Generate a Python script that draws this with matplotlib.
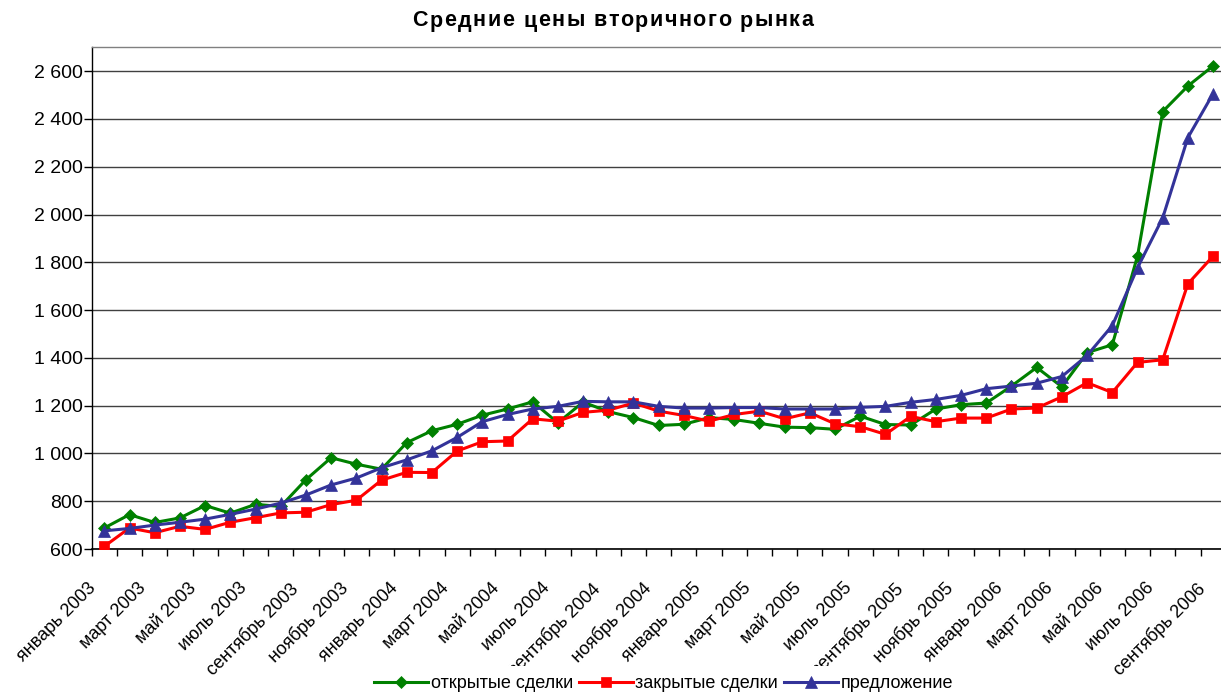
import matplotlib
matplotlib.use("Agg")
import matplotlib.pyplot as plt
from matplotlib.ticker import FixedLocator, FuncFormatter
from matplotlib.transforms import Bbox, TransformedBbox, ScaledTranslation

plt.rcParams['font.family'] = ['Liberation Sans', 'DejaVu Sans']

months = ["январь", "февраль", "март", "апрель", "май", "июнь", "июль",
          "август", "сентябрь", "октябрь", "ноябрь", "декабрь"]
categories = [f"{months[m]} {y}" for y in (2003, 2004, 2005, 2006) for m in range(12)][:45]

open_deals = [688, 744, 711, 730, 782, 750, 787, 778, 890, 982,
              955, 934, 1045, 1095, 1122, 1160, 1186, 1216, 1128, 1215,
              1175, 1150, 1117, 1122, 1150, 1142, 1126, 1110, 1108, 1101,
              1156, 1121, 1119, 1186, 1204, 1211, 1282, 1360, 1279, 1422,
              1455, 1826, 2431, 2538, 2622]
closed_deals = [611, 688, 668, 695, 682, 712, 731, 751, 754, 786,
                804, 888, 921, 920, 1010, 1049, 1052, 1145, 1135, 1172,
                1181, 1211, 1177, 1159, 1135, 1163, 1177, 1145, 1170, 1124,
                1112, 1080, 1155, 1133, 1148, 1148, 1186, 1190, 1237, 1296,
                1255, 1381, 1392, 1710, 1826]
offer = [676, 686, 700, 712, 725, 745, 767, 792, 826, 868,
         897, 940, 973, 1011, 1067, 1133, 1163, 1186, 1197, 1218,
         1216, 1216, 1197, 1190, 1190, 1192, 1192, 1186, 1186, 1186,
         1193, 1197, 1214, 1226, 1243, 1271, 1282, 1294, 1322, 1410,
         1535, 1777, 1986, 2322, 2506]

series_names = ["открытые сделки", "закрытые сделки", "предложение"]
title = "Средние цены вторичного рынка"

W, H = 1221, 695
fig = plt.figure(figsize=(W / 100, H / 100), dpi=100)
left, right, top, bottom = 91.7, 1225.7, 47.3, 549.0
ax = fig.add_axes([left / W, 1 - bottom / H, (right - left) / W, (bottom - top) / H])

x = list(range(len(categories)))
ax.plot(x, open_deals, color="#008000", lw=2.2, marker="D", ms=6.2,
        mec="#008000", mew=0.5, label=series_names[0], zorder=3)
ax.plot(x, closed_deals, color="#FF0000", lw=2.2, marker="s", ms=7.8,
        mec="#FF0000", mew=0.5, label=series_names[1], zorder=4)
ax.plot(x, offer, color="#333399", lw=2.2, marker="^", ms=9.0,
        mec="#333399", mew=0.5, label=series_names[2], zorder=5)

ax.set_xlim(-0.5, len(categories) - 0.5)
ax.set_ylim(600, 2700)

ax.yaxis.set_major_locator(FixedLocator(list(range(600, 2601, 200))))
ax.yaxis.set_major_formatter(FuncFormatter(lambda v, p: f"{int(v):,}".replace(",", " ")))
ax.grid(axis="y", color="#404040", lw=1.0, zorder=1)
ax.set_axisbelow(True)

# x ticks: marks at category boundaries, labels every 2 months
ax.set_xticks([i - 0.5 for i in range(len(categories) + 1)], minor=True)
ax.set_xticks(x[::2])
ax.set_xticklabels(categories[::2], rotation=45, ha="right", rotation_mode="anchor",
                   fontsize=13)
ax.tick_params(axis="x", which="major", length=0, pad=22)
ax.tick_params(axis="x", which="minor", length=5, width=1, color="black", direction="out")
ax.tick_params(axis="y", which="major", length=6, width=1, color="black",
               direction="out", labelsize=14, pad=0.5)
shift = ScaledTranslation(-17 / 100, 0, fig.dpi_scale_trans)
for lab in ax.get_xticklabels():
    lab.set_transform(lab.get_transform() + shift)

ax.spines["right"].set_visible(False)
ax.spines["top"].set_color("#808080")
ax.spines["top"].set_linewidth(1.0)
ax.spines["left"].set_color("black")
ax.spines["bottom"].set_color("black")
ax.spines["left"].set_linewidth(1.0)
ax.spines["bottom"].set_linewidth(1.2)

# title with letter spacing
renderer = fig.canvas.get_renderer()
tsize = 15.5
t_left, t_right, t_y = 412.5, 813.0, 1 - 21 / H
def _w(s):
    t = fig.text(0, 0, s + "|", fontsize=tsize, fontweight="bold")
    w = t.get_window_extent(renderer).width
    t.remove()
    return w
bar_w = _w("")
natural = _w(title) - bar_w
gap = (t_right - t_left - natural) / (len(title) - 1)
for k, ch in enumerate(title):
    xpos = t_left + (_w(title[:k]) - bar_w) + k * gap
    fig.text(xpos / W, t_y, ch, fontsize=tsize, fontweight="bold",
             ha="left", va="center")

leg = fig.legend(loc="center", bbox_to_anchor=(663.5 / W, 1 - 684 / H), ncol=3,
                 frameon=False, fontsize=13, handlelength=3.0, handletextpad=0.15,
                 columnspacing=0.3, borderaxespad=0, borderpad=0)

# labels that run under the legend are hidden there, as in the reference
clip = TransformedBbox(Bbox([[0, 29 / H], [1, 1]]), fig.transFigure)
labs = ax.get_xticklabels()
for i, lab in enumerate(labs):
    xpix = left + (2 * i + 0.5) * (right - left) / len(categories)
    if 380 < xpix < 1000:
        lab.set_clip_box(clip)
        lab.set_clip_on(True)

fig.savefig("out.png", dpi=100)
